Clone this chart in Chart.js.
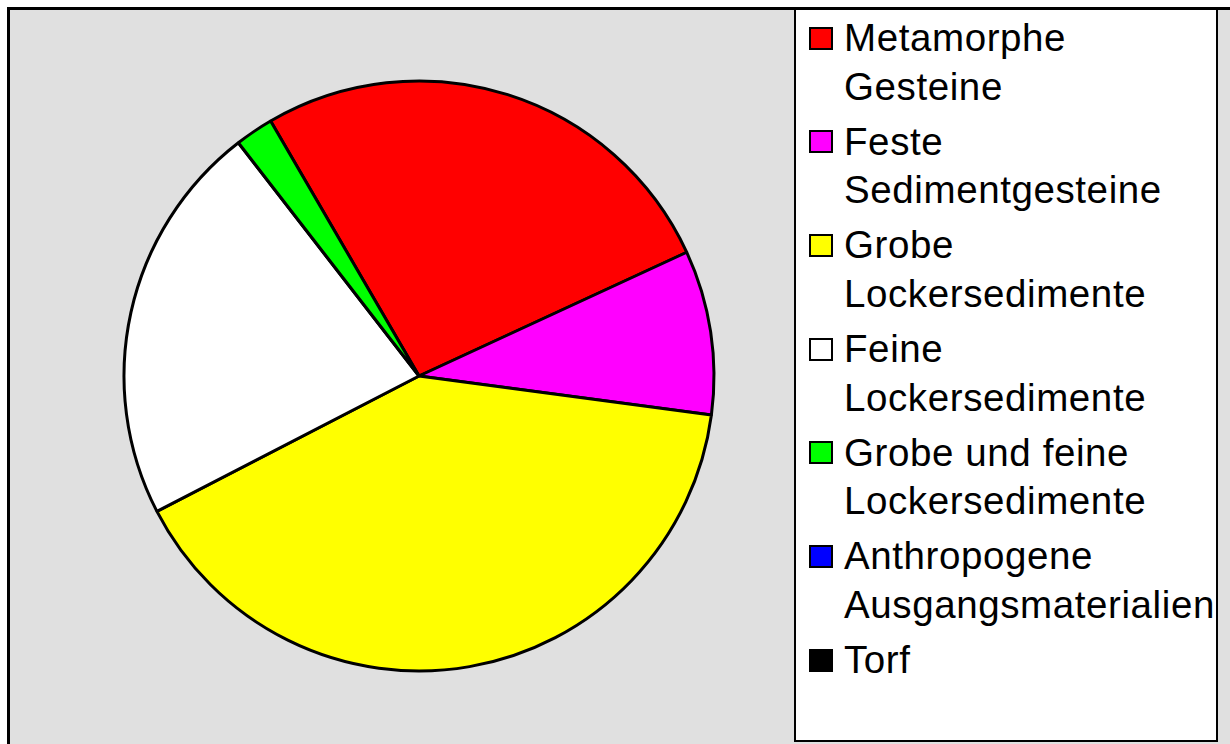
<!DOCTYPE html>
<html>
<head>
<meta charset="utf-8">
<script src="https://cdn.jsdelivr.net/npm/chart.js@4"></script>
<style>
    html, body { margin: 0; padding: 0; width: 1230px; height: 744px; overflow: hidden; background: #fff; }
    #frame { position: absolute; left: 7px; top: 7px; width: 1260px; height: 780px; border: 3px solid #000; background: #e0e0e0; }
    #chart-box { position: absolute; left: 0; top: 0; width: 794px; height: 744px; z-index: 2; }
    #legend { position: absolute; left: 794px; top: 7px; width: 424px; height: 735px; box-sizing: border-box;
        border: 2px solid #000; border-top-width: 3px; background: #fff; z-index: 3; padding-top: 4px;
        font-family: "Liberation Sans", Arial, sans-serif; font-size: 38.5px; line-height: 48.5px;
        letter-spacing: 0.6px; color: #000; }
    .item { position: relative; padding-left: 48px; margin-bottom: 6.7px; white-space: nowrap; }
    .box { position: absolute; left: 13px; top: 12.5px; width: 24px; height: 23px; box-sizing: border-box; border: 2px solid #000; }
</style>
</head>
<body>
<div id="frame"></div>
<div id="chart-box"><canvas id="chart-pie" width="794" height="744"></canvas></div>
<div id="legend"></div>
<script>
var labels = [
    ['Metamorphe', 'Gesteine'],
    ['Feste', 'Sedimentgesteine'],
    ['Grobe', 'Lockersedimente'],
    ['Feine', 'Lockersedimente'],
    ['Grobe und feine', 'Lockersedimente'],
    ['Anthropogene', 'Ausgangsmaterialien'],
    ['Torf']
];
var anteil = [26.5, 9.0, 40.3, 22.1, 2.1, 0, 0];
var farben = ['#ff0000', '#ff00ff', '#ffff00', '#ffffff', '#00ff00', '#0000ff', '#000000'];

// legend built from the same arrays
var legend = document.getElementById('legend');
labels.forEach(function (lines, i) {
    var item = document.createElement('div');
    item.className = 'item';
    var box = document.createElement('span');
    box.className = 'box';
    box.style.background = farben[i];
    item.appendChild(box);
    lines.forEach(function (line, j) {
        if (j > 0) item.appendChild(document.createElement('br'));
        item.appendChild(document.createTextNode(line));
    });
    legend.appendChild(item);
});

var ctxPie = document.getElementById('chart-pie').getContext('2d');
var myChartPie = new Chart(ctxPie, {
    type: 'pie',
    data: {
        labels: labels.map(function (l) { return l.join(' '); }),
        datasets: [{
            data: anteil,
            backgroundColor: farben,
            borderColor: '#000000',
            borderWidth: 3,
            radius: 295
        }]
    },
    options: {
        responsive: false,
        animation: false,
        rotation: -30.2,
        layout: { padding: { left: 44, right: 0, top: 8, bottom: 0 } },
        plugins: {
            legend: { display: false },
            tooltip: { enabled: false }
        }
    }
});
</script>
</body>
</html>
